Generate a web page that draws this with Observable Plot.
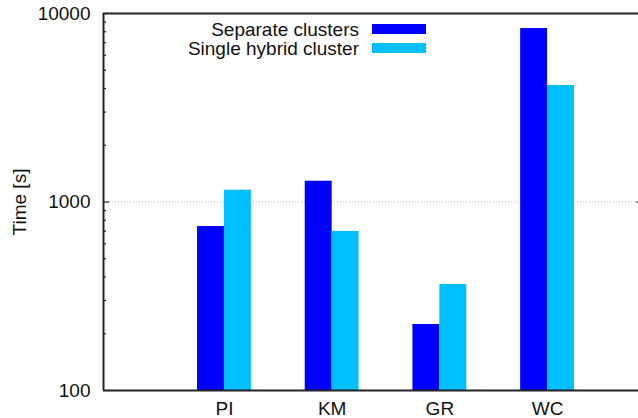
<!DOCTYPE html>
<html>
<head>
<meta charset="utf-8">
<script src="https://cdn.jsdelivr.net/npm/d3@7"></script>
<script src="https://cdn.jsdelivr.net/npm/@observablehq/plot@0.6"></script>
<style>
  html, body { margin: 0; padding: 0; background: #fff; }
  #wrap { position: relative; width: 638px; height: 418px; font-family: "Liberation Sans", Arial, sans-serif; }
  .leg { position: absolute; left: 0; width: 638px; height: 20px; font-size: 19px; color: #111; }
  .leg span.t { position: absolute; right: 279px; top: 50%; transform: translateY(-50%); white-space: nowrap; line-height: 1; }
  .leg span.s { position: absolute; left: 372px; width: 54px; height: 10px; top: 50%; transform: translateY(-50%); }
</style>
</head>
<body>
<div id="wrap"></div>
<script>
const categories = ["PI", "KM", "GR", "WC"];
const series = ["Separate clusters", "Single hybrid cluster"];
const separate = [741, 1289, 224, 8320];
const hybrid = [1155, 698, 365, 4150];
const colors = ["#0000ff", "#00bfff"];
const yMajor = [100, 1000, 10000];
const yMinor = [200, 300, 400, 500, 600, 700, 800, 900, 2000, 3000, 4000, 5000, 6000, 7000, 8000, 9000];

const rows = [];
categories.forEach((c, i) => {
  rows.push({cat: c, i, series: series[0], value: separate[i], x1: i - 0.25, x2: i});
  rows.push({cat: c, i, series: series[1], value: hybrid[i], x1: i, x2: i + 0.25});
});

const xDomain = [-1.123, 3.872];
const font = "Liberation Sans, Arial, sans-serif";

const chart = Plot.plot({
  width: 638,
  height: 418,
  marginLeft: 103,
  marginRight: -3,
  marginTop: 13,
  marginBottom: 28,
  style: {fontFamily: font, fontSize: "19px", color: "#111", background: "#fff"},
  x: {type: "linear", domain: xDomain},
  y: {type: "log", domain: [100, 10000]},
  color: {domain: series, range: colors},
  marks: [
    Plot.ruleY([1000], {stroke: "#b0b0b0", strokeWidth: 1, strokeDasharray: "1,2"}),
    Plot.rectY(rows, {x1: "x1", x2: "x2", y1: 100, y2: "value", fill: "series"}),
    Plot.axisY({ticks: yMajor, tickSize: 0, tickPadding: 13, tickFormat: d => String(d), fontSize: 19, label: null}),
    Plot.axisY({ticks: yMajor, tickSize: 6, dx: 6, text: null, label: null, stroke: "#222", strokeWidth: 1.2}),
    Plot.axisY({ticks: yMinor, tickSize: 3, dx: 3, text: null, label: null, stroke: "#222", strokeWidth: 1.2}),
    Plot.axisY({anchor: "right", ticks: yMajor, tickSize: 6, dx: -6, text: null, label: null, stroke: "#222", strokeWidth: 1.2}),
    Plot.axisY({anchor: "right", ticks: yMinor, tickSize: 3, dx: -3, text: null, label: null, stroke: "#222", strokeWidth: 1.2}),
    Plot.axisX({ticks: d3.range(categories.length), tickFormat: i => categories[i], tickSize: 0, tickPadding: 11, fontSize: 19, label: null}),
    Plot.ruleY([100, 10000], {stroke: "#222", strokeWidth: 2}),
    Plot.ruleX([xDomain[0]], {stroke: "#222", strokeWidth: 2}),
    Plot.text(["Time [s]"], {frameAnchor: "left", dx: -84, rotate: -90, textAnchor: "middle", lineAnchor: "middle", fontSize: 19, fill: "#111"})
  ]
});

const wrap = document.getElementById("wrap");
wrap.appendChild(chart);
const legendY = [28.5, 48];
series.forEach((s, k) => {
  const row = document.createElement("div");
  row.className = "leg";
  row.style.top = (legendY[k] - 10) + "px";
  const t = document.createElement("span");
  t.className = "t";
  t.textContent = s;
  const sw = document.createElement("span");
  sw.className = "s";
  sw.style.background = colors[k];
  row.appendChild(t);
  row.appendChild(sw);
  wrap.appendChild(row);
});
</script>
</body>
</html>
